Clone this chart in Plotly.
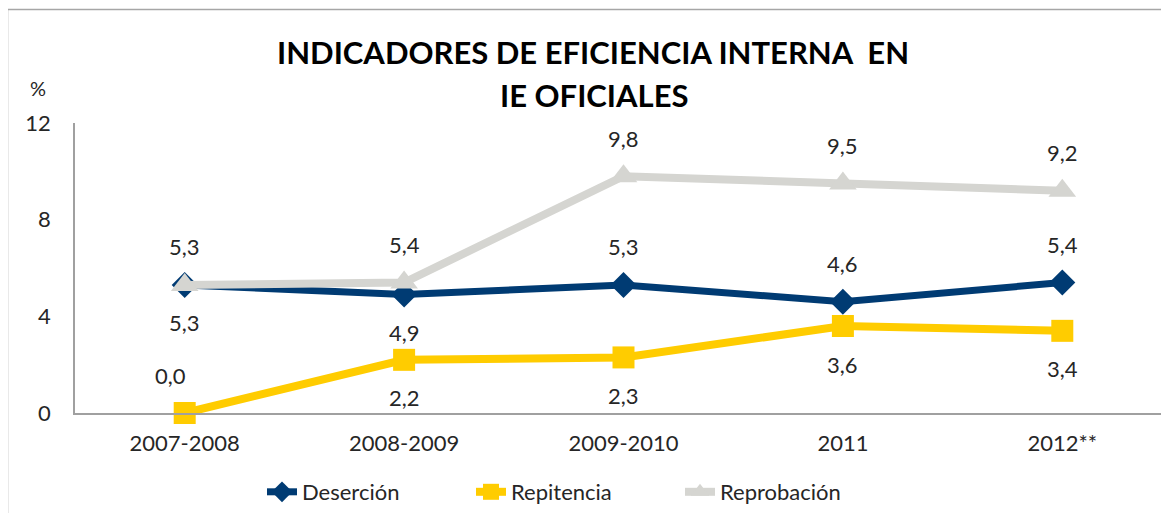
import plotly.graph_objects as go

categories = ["2007-2008", "2008-2009", "2009-2010", "2011", "2012**"]
desercion = [5.3, 4.9, 5.3, 4.6, 5.4]
repitencia = [0.0, 2.2, 2.3, 3.6, 3.4]
reprobacion = [5.3, 5.4, 9.8, 9.5, 9.2]
y_ticks = [0, 4, 8, 12]

# label placement (style): +1 above, -1 below
desercion_side = [-1, -1, 1, 1, 1]
repitencia_side = [1, -1, -1, -1, -1]
reprobacion_side = [1, 1, 1, 1, 1]

# page body has an 8px margin; work in reference pixel coords and shift
OFF = 8
W, H = 1169 - OFF, 513 - OFF
L = 75 - OFF
T = 123 - OFF
B = H - (413 - OFF)
R = 0
pw = W - L - R
ph = H - T - B
px_per_cat = 219.4
x_max = -0.5 + pw / px_per_cat

FONT = "Lato"
TXT = "#262626"
FS = 22

fig = go.Figure()

series = [
    ("Deserción", desercion, "#003B73", "diamond", 20, 7, desercion_side),
    ("Repitencia", repitencia, "#FFCC00", "square", 22, 8, repitencia_side),
    ("Reprobación", reprobacion, "#D5D5D1", "triangle-up", 24, 8, reprobacion_side),
]
order = [1, 0, 2]
for i in order:
    name, vals, col, sym, ms, lw, side = series[i]
    fig.add_trace(go.Scatter(
        x=categories, y=vals, name=name, mode="lines+markers",
        line=dict(color=col, width=lw),
        marker=dict(symbol=sym, size=ms, color=col),
        cliponaxis=False,
        legendrank={"Deserción": 1, "Repitencia": 2, "Reprobación": 3}[name],
    ))

annotations = []
for name, vals, col, sym, ms, lw, side in series:
    for j, v in enumerate(vals):
        xs = -14 if (name == "Repitencia" and j == 0) else 0
        annotations.append(dict(
            x=j, y=v, xref="x", yref="y", text=f"{v:.1f}".replace(".", ","),
            showarrow=False, yshift=38 * side[j], xshift=xs,
            font=dict(family=FONT, size=FS, color=TXT),
        ))


def py(p):
    """reference pixel y -> paper y"""
    return (413 - p) / ph


def pxx(p):
    """reference pixel x -> paper x"""
    return (p - 75) / pw


annotations.append(dict(x=pxx(593), y=py(52), xref="paper", yref="paper",
                        text="<b>INDICADORES DE EFICIENCIA INTERNA  EN</b>", showarrow=False,
                        font=dict(family=FONT, size=31, color="#000000"),
                        xanchor="center", yanchor="middle"))
annotations.append(dict(x=pxx(594), y=py(95), xref="paper", yref="paper",
                        text="<b>IE OFICIALES</b>", showarrow=False,
                        font=dict(family=FONT, size=31, color="#000000"),
                        xanchor="center", yanchor="middle"))
annotations.append(dict(x=pxx(38), y=py(88), xref="paper", yref="paper",
                        text="%", showarrow=False,
                        font=dict(family=FONT, size=20, color=TXT),
                        xanchor="center", yanchor="middle"))

fig.update_layout(
    width=W, height=H,
    margin=dict(l=L, r=R, t=T, b=B, pad=0),
    paper_bgcolor="white", plot_bgcolor="white",
    font=dict(family=FONT, size=FS, color=TXT),
    showlegend=True,
    legend=dict(orientation="h", x=pxx(262), y=py(492), xanchor="left", yanchor="middle",
                font=dict(family=FONT, size=FS, color=TXT),
                entrywidth=164, entrywidthmode="pixels",
                traceorder="normal", bgcolor="rgba(0,0,0,0)"),
    annotations=annotations,
    shapes=[dict(type="rect", xref="paper", yref="paper",
                 x0=pxx(7.5), x1=pxx(1190), y0=py(540), y1=py(9.5),
                 line=dict(color="#A6A6A6", width=1.5), layer="below")],
)
fig.update_xaxes(
    type="category", range=[-0.5, x_max], showgrid=False, zeroline=False,
    showline=True, linecolor="#A0A0A0", linewidth=2, ticks="",
    tickfont=dict(family=FONT, size=FS, color=TXT), ticklabelstandoff=10,
)
fig.update_yaxes(
    range=[0, 12], tickvals=y_ticks, showgrid=False, zeroline=False,
    showline=True, linecolor="#A0A0A0", linewidth=1.5, ticks="",
    tickfont=dict(family=FONT, size=FS, color=TXT), ticklabelstandoff=18,
)

fig.write_html("out.html")
